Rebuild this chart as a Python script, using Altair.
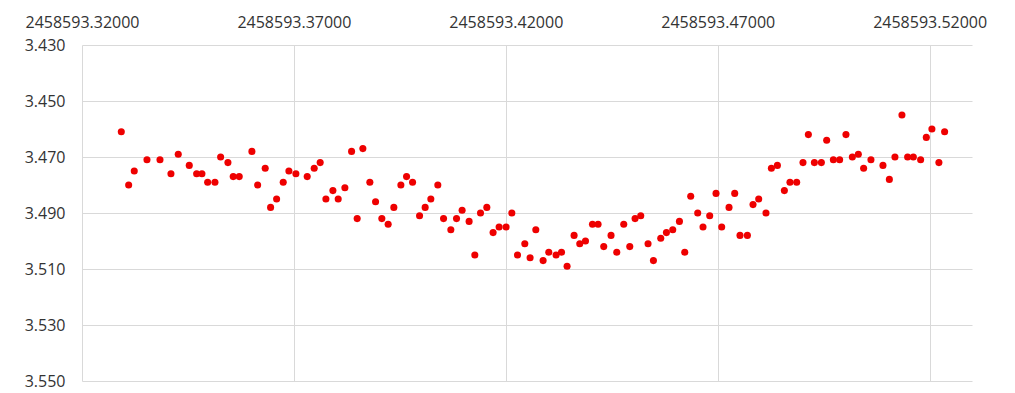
import altair as alt
import pandas as pd

# Julian date base and the fractional-day times of each observation
JD_BASE = 2458593.0
time_offsets = [
    0.32927, 0.33101, 0.33233, 0.33533, 0.33840, 0.34099, 0.34271, 0.34531,
    0.34705, 0.34830, 0.34965, 0.35137, 0.35271, 0.35443, 0.35568, 0.35710,
    0.36009, 0.36144, 0.36323, 0.36450, 0.36592, 0.36748, 0.36882, 0.37047,
    0.37314, 0.37479, 0.37620, 0.37755, 0.37920, 0.38045, 0.38203, 0.38361,
    0.38493, 0.38627, 0.38792, 0.38927, 0.39075, 0.39224, 0.39358, 0.39524,
    0.39658, 0.39800, 0.39965, 0.40097, 0.40231, 0.40396, 0.40531, 0.40703,
    0.40837, 0.40969, 0.41134, 0.41269, 0.41403, 0.41552, 0.41700, 0.41842,
    0.42007, 0.42142, 0.42276, 0.42448, 0.42573, 0.42708, 0.42880, 0.43014,
    0.43186, 0.43314, 0.43446, 0.43611, 0.43745, 0.43880, 0.44045, 0.44177,
    0.44311, 0.44483, 0.44618, 0.44783, 0.44925, 0.45050, 0.45184, 0.45356,
    0.45483, 0.45656, 0.45790, 0.45939, 0.46097, 0.46222, 0.46363, 0.46528,
    0.46653, 0.46811, 0.46960, 0.47094, 0.47267, 0.47401, 0.47526, 0.47700,
    0.47833, 0.47967, 0.48139, 0.48267, 0.48408, 0.48573, 0.48705, 0.48863,
    0.49012, 0.49139, 0.49281, 0.49446, 0.49571, 0.49729, 0.49877, 0.50026,
    0.50177, 0.50318, 0.50443, 0.50616, 0.50899, 0.51050, 0.51182, 0.51347,
    0.51481, 0.51616, 0.51788, 0.51922, 0.52054, 0.52219, 0.52354,
]

# Measured magnitudes
magnitudes = [
    3.461, 3.480, 3.475, 3.471, 3.471, 3.476, 3.469, 3.473,
    3.476, 3.476, 3.479, 3.479, 3.470, 3.472, 3.477, 3.477,
    3.468, 3.480, 3.474, 3.488, 3.485, 3.479, 3.475, 3.476,
    3.477, 3.474, 3.472, 3.485, 3.482, 3.485, 3.481, 3.468,
    3.492, 3.467, 3.479, 3.486, 3.492, 3.494, 3.488, 3.480,
    3.477, 3.479, 3.491, 3.488, 3.485, 3.480, 3.492, 3.496,
    3.492, 3.489, 3.493, 3.505, 3.490, 3.488, 3.497, 3.495,
    3.495, 3.490, 3.505, 3.501, 3.506, 3.496, 3.507, 3.504,
    3.505, 3.504, 3.509, 3.498, 3.501, 3.500, 3.494, 3.494,
    3.502, 3.498, 3.504, 3.494, 3.502, 3.492, 3.491, 3.501,
    3.507, 3.499, 3.497, 3.496, 3.493, 3.504, 3.484, 3.490,
    3.495, 3.491, 3.483, 3.495, 3.488, 3.483, 3.498, 3.498,
    3.487, 3.485, 3.490, 3.474, 3.473, 3.482, 3.479, 3.479,
    3.472, 3.462, 3.472, 3.472, 3.464, 3.471, 3.471, 3.462,
    3.470, 3.469, 3.474, 3.471, 3.473, 3.478, 3.470, 3.455,
    3.470, 3.470, 3.471, 3.463, 3.460, 3.472, 3.461,
]

# Axis ticks
x_tick_offsets = [0.32, 0.37, 0.42, 0.47, 0.52]
y_ticks = [3.43, 3.45, 3.47, 3.49, 3.51, 3.53, 3.55]

df = pd.DataFrame({
    "jd": [JD_BASE + t for t in time_offsets],
    "mag": magnitudes,
})

FONT = "Open Sans"
TEXT = "#333333"
GRID = "#d9d9d9"

chart = (
    alt.Chart(df)
    .mark_circle(size=50, color="#ee0000", opacity=1)
    .encode(
        x=alt.X(
            "jd:Q",
            scale=alt.Scale(domain=[JD_BASE + 0.32, JD_BASE + 0.53], nice=False, zero=False),
            axis=alt.Axis(
                orient="top",
                values=[JD_BASE + v for v in x_tick_offsets],
                format=".5f",
                title=None,
                ticks=False,
                tickSize=0,
                domain=False,
                labelFlush=False,
                labelPadding=15,
                labelFont=FONT,
                labelFontSize=16,
                labelColor=TEXT,
                gridColor=GRID,
                gridWidth=1,
            ),
        ),
        y=alt.Y(
            "mag:Q",
            scale=alt.Scale(domain=[3.43, 3.55], reverse=True, nice=False, zero=False),
            axis=alt.Axis(
                values=y_ticks,
                format=".3f",
                title=None,
                ticks=False,
                tickSize=0,
                domain=False,
                labelFlush=False,
                labelPadding=17,
                labelFont=FONT,
                labelFontSize=16,
                labelColor=TEXT,
                gridColor=GRID,
                gridWidth=1,
            ),
        ),
    )
    .properties(
        width=890,
        height=336,
        padding={"left": 82, "top": 45, "right": 43, "bottom": 12},
        autosize=alt.AutoSizeParams(type="none"),
        background="white",
    )
    .configure_view(stroke=None)
)

chart.save("out.html", embed_options={"renderer": "svg", "actions": False})
